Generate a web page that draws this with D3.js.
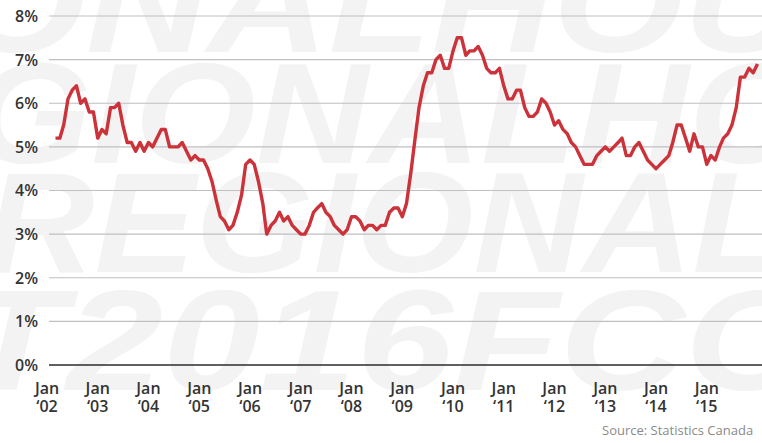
<!DOCTYPE html>
<html><head><meta charset="utf-8">
<script src="https://cdn.jsdelivr.net/npm/d3@7"></script>
<style>html,body{margin:0;padding:0;background:#fff;overflow:hidden;} svg{display:block;}</style>
</head><body><svg id="c" width="762" height="443"></svg>
<script>
// Monthly unemployment rate (%), Jan 2002 .. Nov 2015
const startYear = 2002;
const rates = [
 5.2,5.2,5.5,6.1,6.3,6.4,6.0,6.1,5.8,5.8,5.2,5.4,
 5.3,5.9,5.9,6.0,5.5,5.1,5.1,4.9,5.1,4.9,5.1,5.0,
 5.2,5.4,5.4,5.0,5.0,5.0,5.1,4.9,4.7,4.8,4.7,4.7,
 4.5,4.2,3.8,3.4,3.3,3.1,3.2,3.5,3.9,4.6,4.7,4.6,
 4.2,3.7,3.0,3.2,3.3,3.5,3.3,3.4,3.2,3.1,3.0,3.0,
 3.2,3.5,3.6,3.7,3.5,3.4,3.2,3.1,3.0,3.1,3.4,3.4,
 3.3,3.1,3.2,3.2,3.1,3.2,3.2,3.5,3.6,3.6,3.4,3.7,
 4.4,5.2,5.9,6.4,6.7,6.7,7.0,7.1,6.8,6.8,7.2,7.5,
 7.5,7.1,7.2,7.2,7.3,7.1,6.8,6.7,6.7,6.8,6.4,6.1,
 6.1,6.3,6.3,5.9,5.7,5.7,5.8,6.1,6.0,5.8,5.5,5.6,
 5.4,5.3,5.1,5.0,4.8,4.6,4.6,4.6,4.8,4.9,5.0,4.9,
 5.0,5.1,5.2,4.8,4.8,5.0,5.1,4.9,4.7,4.6,4.5,4.6,
 4.7,4.8,5.1,5.5,5.5,5.2,4.9,5.3,5.0,5.0,4.6,4.8,
 4.7,5.0,5.2,5.3,5.5,5.9,6.6,6.6,6.8,6.7,6.9
];
const yearLabels = ["‘02","‘03","‘04","‘05","‘06","‘07","‘08","‘09","‘10","‘11","‘12","‘13","‘14","‘15"];
const monthLabel = "Jan";
const yTicks = [0,1,2,3,4,5,6,7,8];
const sourceText = "Source: Statistics Canada";
const watermarkRows = ["ONALHOU","GIONALHO","REGIONAL","T2016FCO"];

const svg = d3.select("#c");
const W = 762, H = 443;

// watermark
const wmLayout = [
  {x:-45, y:52, w:850},
  {x:-30, y:163, w:840},
  {x:-15, y:272, w:800},
  {x:-40, y:390, w:860}
];
svg.append("g").selectAll("text").data(watermarkRows).join("text")
  .attr("x", (d,i)=>wmLayout[i].x).attr("y",(d,i)=>wmLayout[i].y)
  .attr("textLength",(d,i)=>wmLayout[i].w).attr("lengthAdjust","spacingAndGlyphs")
  .attr("font-family","Liberation Sans, Arial, sans-serif").attr("font-weight","bold")
  .attr("font-style","italic").attr("font-size",142).attr("fill","#f3f3f3")
  .text(d=>d);

const dates = rates.map((v,i)=>new Date(startYear, i, 1));
const x = d3.scaleTime().domain([dates[0], dates[dates.length-1]]).range([55.5, 757.5]);
const y = d3.scaleLinear().domain([0,8]).range([365,16]);

// grid
const grid = svg.append("g");
grid.selectAll("line").data(yTicks).join("line")
  .attr("x1", 49).attr("x2", W)
  .attr("y1", d=>y(d)).attr("y2", d=>y(d))
  .attr("stroke", d=> d===0 ? "#2b2b2b" : "#bfbfc4")
  .attr("stroke-width", d=> d===0 ? 1.6 : 1.2);

// y labels
const yAxis = d3.axisLeft(y).tickValues(yTicks).tickFormat(d=>d+"%").tickSize(0).tickPadding(0);
const ya = svg.append("g").attr("transform","translate(38,0)").call(yAxis);
ya.select(".domain").remove();
ya.selectAll("text").attr("font-family","Open Sans, sans-serif").attr("font-size",16)
  .attr("font-weight",600).attr("fill","#333").attr("dy","0.34em");

// x labels
const yearTicks = yearLabels.map((d,i)=>new Date(startYear+i,0,1));
const labelShift = -8.5;
const xg = svg.append("g");
const xl = xg.selectAll("g").data(yearTicks).join("g")
  .attr("transform", d=>`translate(${x(d)+labelShift},0)`);
xl.append("text").attr("y",394).attr("text-anchor","middle").text(monthLabel);
xl.append("text").attr("y",412).attr("text-anchor","middle").text((d,i)=>yearLabels[i]);
xl.selectAll("text").attr("font-family","Open Sans, sans-serif").attr("font-size",16)
  .attr("font-weight",600).attr("fill","#333");

// line
const line = d3.line().x((d,i)=>x(dates[i])).y(d=>y(d));
svg.append("path").datum(rates).attr("d", line)
  .attr("fill","none").attr("stroke","#cc3239").attr("stroke-width",3.4)
  .attr("stroke-linejoin","round").attr("stroke-linecap","butt");

// source
svg.append("text").attr("x",602).attr("y",435).text(sourceText)
  .attr("font-family","Open Sans, sans-serif").attr("font-size",13).attr("fill","#8a8a8a");
</script></body></html>
